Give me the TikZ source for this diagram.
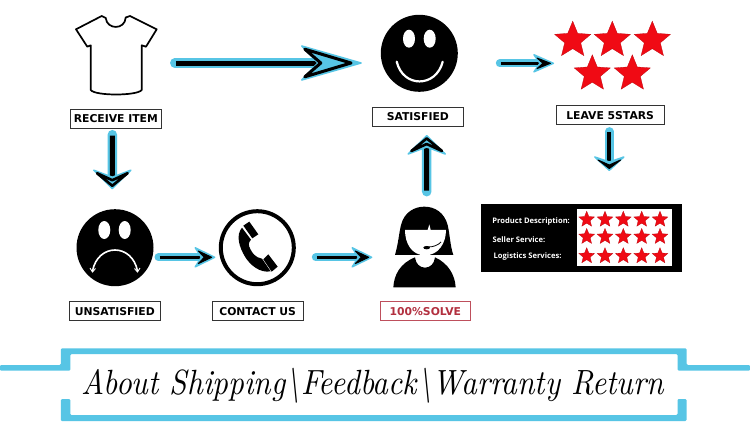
\documentclass[tikz,border=0pt]{standalone}
\usepackage{fontspec}
\usepackage{graphicx}
\usetikzlibrary{calc,shapes.geometric}
\newfontfamily\lblfont{DejaVu Sans}
\newfontfamily\ratefont{Open Sans}
\definecolor{skyb}{HTML}{57C5E5}
\definecolor{solvered}{HTML}{B2303F}
\definecolor{starred}{HTML}{F00A14}
\tikzset{
  every node/.style={inner sep=0pt,outer sep=0pt},
  labelbox/.style={draw=black!80,line width=1pt,fill=white,minimum width=#1,minimum height=19.4pt,font=\lblfont\bfseries\fontsize{10.8}{12}\selectfont},
  face/.style={circle,fill=black,minimum size=77pt},
  redstar/.style={star,star points=5,star point ratio=2.25,fill=starred,draw=starred!80!black,line width=.3pt,minimum size=#1},
  ratetext/.style={text=white,anchor=west,font=\ratefont\bfseries\fontsize{7.6}{9}\selectfont},
}
% from, to, rotation, head length, head width, inset, shaft width, head fill, head stroke
\newcommand{\flowarrow}[9]{%
  \draw[skyb,line width=#7+4.5pt,line cap=round,shorten >=#4*0.5pt] #1 -- #2;
  \draw[black,line width=#7,shorten <=1pt,shorten >=#4*0.6pt] #1 -- #2;
  \begin{scope}[shift={#2},rotate=#3]
    \fill[skyb,draw=skyb,line width=1.5pt,line join=round] (-.7,0) -- (-#4,-#5/2) -- (-#4+#6,0) -- (-#4,#5/2) -- cycle;
    \filldraw[fill=#8,draw=black,line width=#9,line join=round] (-0.18*#4,0) -- (-#4+3,-#5/2+3.2) -- (-#4+3+#6,0) -- (-#4+3,#5/2-3.2) -- cycle;
  \end{scope}%
}
\begin{document}
\begin{tikzpicture}[x=1pt,y=-1pt]
\useasboundingbox (0,0) rectangle (750,431);
\fill[white] (0,0) rectangle (750,431);
% anchor nodes
\node[minimum width=81pt,minimum height=79pt] (shirt) at (116.3,55.5) {};
\node[face] (smile) at (419.3,53.3) {};
\node[face] (sad) at (115,247.7) {};
\node[circle,draw=black,line width=4pt,fill=white,minimum size=73pt] (phone) at (257.3,247.7) {};
\node[minimum width=62.4pt,minimum height=80.6pt] (agent) at (424.5,247) {};
% shirt
\draw[line width=1.7pt,line join=round,fill=white]
 (105.7,18) -- (101.7,16) -- (76,29.3) -- (87.3,46.7) -- (90.7,45.3) -- (90.7,90)
 .. controls (95,96) and (137,96) .. (141.7,90) -- (141.7,45.3) -- (146,46.7) -- (156.7,29.3) -- (130,16) -- (125.7,17.5)
 .. controls (125,30) and (107,30) .. (105.7,18) -- cycle;
% labels
\node[labelbox=91.7pt] (receive) at (115.85,119) {RECEIVE ITEM};
\node[labelbox=91.7pt] (satisfied) at (417.85,117) {SATISFIED};
\node[labelbox=107.7pt] (leave) at (610.15,115.2) {LEAVE 5STARS};
\node[labelbox=91pt] (unsat) at (114.8,311.2) {UNSATISFIED};
\node[labelbox=91.3pt] (contact) at (257.65,311.2) {CONTACT US};
\node[labelbox=90.7pt,draw=solvered!85!white,text=solvered] (solve) at (425.35,311.2) {100\%SOLVE};
% smile
\fill[white] (409,38.7) ellipse [x radius=6,y radius=9];
\fill[white] (429.7,38.7) ellipse [x radius=6,y radius=9];
\draw[white,line width=2.2pt,line cap=round] (396.7,61.7) .. controls (403,88) and (436,88) .. (442.7,61.7);
% sad
\fill[white] (104.3,230) ellipse [x radius=6,y radius=9];
\fill[white] (124.7,230) ellipse [x radius=6,y radius=9];
\draw[white,line width=1.6pt,line cap=round] (92.5,271) .. controls (98,243) and (132,243) .. (137.5,271);
\draw[white,line width=.9pt] (90,268) -- (92.5,272) -- (95.5,268.5) (134.5,268.5) -- (137.5,272) -- (140,268);
% stars
\node[redstar=38pt] (s1) at (572.7,40.2) {};
\node[redstar=38pt] (s2) at (612.3,40.2) {};
\node[redstar=38pt] (s3) at (652.3,40.2) {};
\node[redstar=38pt] (s4) at (592.3,73.8) {};
\node[redstar=38pt] (s5) at (632.3,73.8) {};
% phone handset
\begin{scope}[shift={(215,205)},x=.3333pt,y=-.3333pt]
\fill[black] (103,50) -- (130,88) -- (112,100) -- (85,62) -- cycle;
\fill[black] (160,148) -- (188,185) -- (170,200) -- (145,163) -- cycle;
\fill[black] (81,68) -- (108,104) .. controls (100,112) and (100,122) .. (106,132) .. controls (112,145) and (122,158) .. (141,161) -- (167,199)
 .. controls (135,205) and (105,180) .. (90,155) .. controls (72,125) and (62,90) .. (81,68) -- cycle;
\end{scope}
% agent
\begin{scope}[shift={(385,200)},x=.3333pt,y=-.3333pt]
\fill[black] (30,165) .. controls (40,130) and (42,100) .. (48,75) .. controls (58,35) and (90,20) .. (118,20) .. controls (150,20) and (178,38) .. (188,75) .. controls (195,105) and (195,135) .. (205,165) -- cycle;
\fill[white] (60,90) -- (128,90) -- (133,73) -- (137,90) -- (183,90) .. controls (183,130) and (160,166) .. (120,166) .. controls (80,166) and (60,130) .. (60,90) -- cycle;
\fill[black] (25,262) .. controls (27,225) and (45,190) .. (90,172) .. controls (92,192) and (105,203) .. (120,203) .. controls (135,203) and (148,192) .. (150,172) .. controls (190,190) and (210,225) .. (212,262) -- cycle;
\fill[black] (125,143) ellipse [x radius=10,y radius=5];
\draw[black,line width=.8pt] (125,141) .. controls (145,142) and (160,135) .. (168,126);
\end{scope}
% rating panel
\node[fill=black,minimum width=201.3pt,minimum height=68pt] (rating) at (581.65,238.3) {};
\node[fill=white,minimum width=94.4pt,minimum height=57.3pt] (panel) at (624.5,237.65) {};
\node[ratetext] (t1) at (492.3,221.7) {Product Description:};
\node[ratetext] (t2) at (492.7,239.3) {Seller Service:};
\node[ratetext] (t3) at (493.7,257) {Logistics Services:};
\foreach \yy/\r in {219.5/a,236.7/b,256/c}
  \foreach \xx/\c in {586.7/1,605/2,623.3/3,641.7/4,660/5}
    \node[redstar=16.5pt] (r\r\c) at (\xx,\yy) {};
% connectors
\flowarrow{($(shirt.east)+(18,7.5)$)}{($(smile.west)+(-19,9.7)$)}{0}{60}{34}{16}{5pt}{skyb}{3pt}
\flowarrow{($(receive.south)+(-3.5,6)$)}{($(sad.north)+(-2.7,-20)$)}{-90}{19}{37}{7}{5pt}{skyb}{2.6pt}
\flowarrow{($(smile.east)+(42,10)$)}{($(s1.center)+(-18.7,23.1)$)}{0}{20}{17}{6}{3.5pt}{black}{1pt}
\flowarrow{($(leave.south)+(-.85,6.5)$)}{($(rating.north)+(27.65,-33.3)$)}{-90}{14}{29}{5}{4pt}{black}{1pt}
\flowarrow{($(sad.east)+(5,9.6)$)}{($(phone.west)+(-5.5,9.6)$)}{0}{20}{19}{6}{3.5pt}{black}{1pt}
\flowarrow{($(phone.east)+(22,9.6)$)}{($(agent.west)+(-21,10.3)$)}{0}{20}{19}{6}{3.5pt}{black}{1pt}
\flowarrow{($(agent.north)+(2.2,-15)$)}{($(satisfied.south)+(8.85,8.3)$)}{90}{19}{37}{7}{5pt}{skyb}{2.6pt}
% banner frame
\fill[skyb,rounded corners=1.2pt] (0,365) -- (60.8,365) -- (60.8,348.3) -- (686.6,348.3) -- (686.6,365) -- (750,365) -- (750,370.7) -- (677.5,370.7) -- (677.5,354) -- (70.3,354) -- (70.3,370.7) -- (0,370.7) -- cycle;
\fill[skyb,rounded corners=1.2pt] (60.8,399) -- (70.3,399) -- (70.3,415) -- (677.5,415) -- (677.5,399) -- (686.6,399) -- (686.6,421) -- (60.8,421) -- cycle;
\node (title) at (373,385.5) {\resizebox*{582pt}{35pt}{\itshape About Shipping\textbackslash Feedback\textbackslash Warranty Return}};
\end{tikzpicture}
\end{document}
